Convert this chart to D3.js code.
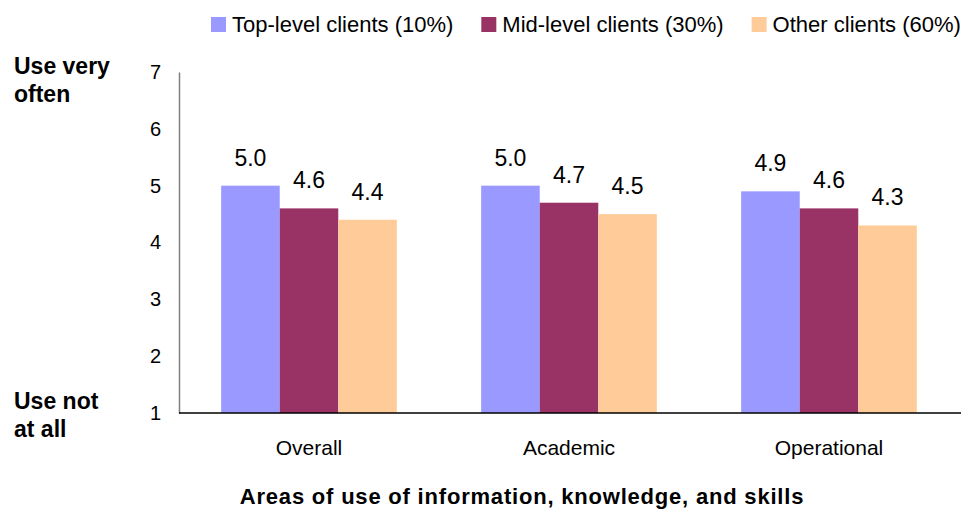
<!DOCTYPE html>
<html>
<head>
<meta charset="utf-8">
<script src="https://cdn.jsdelivr.net/npm/d3@7"></script>
<style>
  body { margin: 0; background: #fff; }
  svg { display: block; font-family: "Liberation Sans", Arial, sans-serif; }
</style>
</head>
<body>
<svg id="chart"></svg>
<script>
const categories = ['Overall', 'Academic', 'Operational'];
const seriesNames = ['Top-level clients (10%)', 'Mid-level clients (30%)', 'Other clients (60%)'];
const topLevel = [5.0, 5.0, 4.9];
const midLevel = [4.6, 4.7, 4.6];
const otherClients = [4.4, 4.5, 4.3];
const yTicks = [1, 2, 3, 4, 5, 6, 7];
const colors = ['#9999ff', '#993366', '#ffcc99'];

const width = 961;
const height = 512;
const plotLeft = 179, plotRight = 959, plotTop = 72, plotBottom = 413;

const svg = d3.select('#chart')
  .attr('width', width)
  .attr('height', height);

const rows = categories.map((c, i) => ({
  cat: c,
  vals: [topLevel[i], midLevel[i], otherClients[i]]
}));

const x0 = d3.scaleBand()
  .domain(categories)
  .range([plotLeft, plotRight])
  .padding(0);

const x1 = d3.scaleBand()
  .domain(d3.range(seriesNames.length))
  .range([0, x0.bandwidth()])
  .paddingInner(0)
  .paddingOuter(0.72);

const y = d3.scaleLinear()
  .domain([1, 7])
  .range([plotBottom, plotTop]);

// bars
const groups = svg.append('g')
  .selectAll('g')
  .data(rows)
  .enter()
  .append('g')
  .attr('transform', d => `translate(${x0(d.cat)},0)`);

groups.selectAll('rect')
  .data(d => d.vals)
  .enter()
  .append('rect')
  .attr('x', (d, i) => x1(i))
  .attr('width', x1.bandwidth())
  .attr('y', d => y(d))
  .attr('height', d => y(1) - y(d))
  .attr('fill', (d, i) => colors[i]);

// value labels
groups.selectAll('text')
  .data(d => d.vals)
  .enter()
  .append('text')
  .attr('x', (d, i) => x1(i) + x1.bandwidth() / 2)
  .attr('y', d => y(d) - 20)
  .attr('text-anchor', 'middle')
  .style('font-size', '23px')
  .attr('fill', '#000')
  .text(d => d.toFixed(1));

// y axis
const yAxis = svg.append('g')
  .attr('transform', `translate(${plotLeft},0)`)
  .call(d3.axisLeft(y).tickValues(yTicks).tickSize(0).tickPadding(18).tickFormat(d3.format('d')));
yAxis.select('.domain').attr('stroke', '#808080').attr('stroke-width', 1.5);
yAxis.selectAll('text')
  .style('font-size', '20px')
  .style('font-family', '"Liberation Sans", Arial, sans-serif')
  .attr('fill', '#000');

// x axis
const xAxis = svg.append('g')
  .attr('transform', `translate(0,${plotBottom})`)
  .call(d3.axisBottom(x0).tickSize(0).tickPadding(27));
xAxis.select('.domain').attr('stroke', '#000').attr('stroke-width', 1.5)
  .attr('d', `M${plotLeft},0H${width}`);
xAxis.selectAll('text')
  .style('font-size', '21px')
  .style('font-family', '"Liberation Sans", Arial, sans-serif')
  .attr('fill', '#000');

// y end labels
const endLabels = [
  { lines: ['Use very', 'often'], y: 74 },
  { lines: ['Use not', 'at all'], y: 409 }
];
endLabels.forEach(l => {
  const t = svg.append('text')
    .attr('x', 14)
    .attr('y', l.y)
    .style('font-size', '23px')
    .style('font-weight', 'bold');
  l.lines.forEach((s, i) => {
    t.append('tspan').attr('x', 14).attr('dy', i === 0 ? 0 : 28).text(s);
  });
});

// x title
svg.append('text')
  .attr('x', 522)
  .attr('y', 504)
  .attr('text-anchor', 'middle')
  .style('font-size', '22px')
  .style('font-weight', 'bold')
  .style('letter-spacing', '0.8px')
  .text('Areas of use of information, knowledge, and skills');

// legend
const legend = svg.append('g');
let lx = 211;
seriesNames.forEach((name, i) => {
  legend.append('rect')
    .attr('x', lx)
    .attr('y', 17)
    .attr('width', 15)
    .attr('height', 15)
    .attr('fill', colors[i]);
  const t = legend.append('text')
    .attr('x', lx + 21)
    .attr('y', 32)
    .style('font-size', '22px')
    .text(name);
  lx += 21 + t.node().getComputedTextLength() + 28;
});
</script>
</body>
</html>
